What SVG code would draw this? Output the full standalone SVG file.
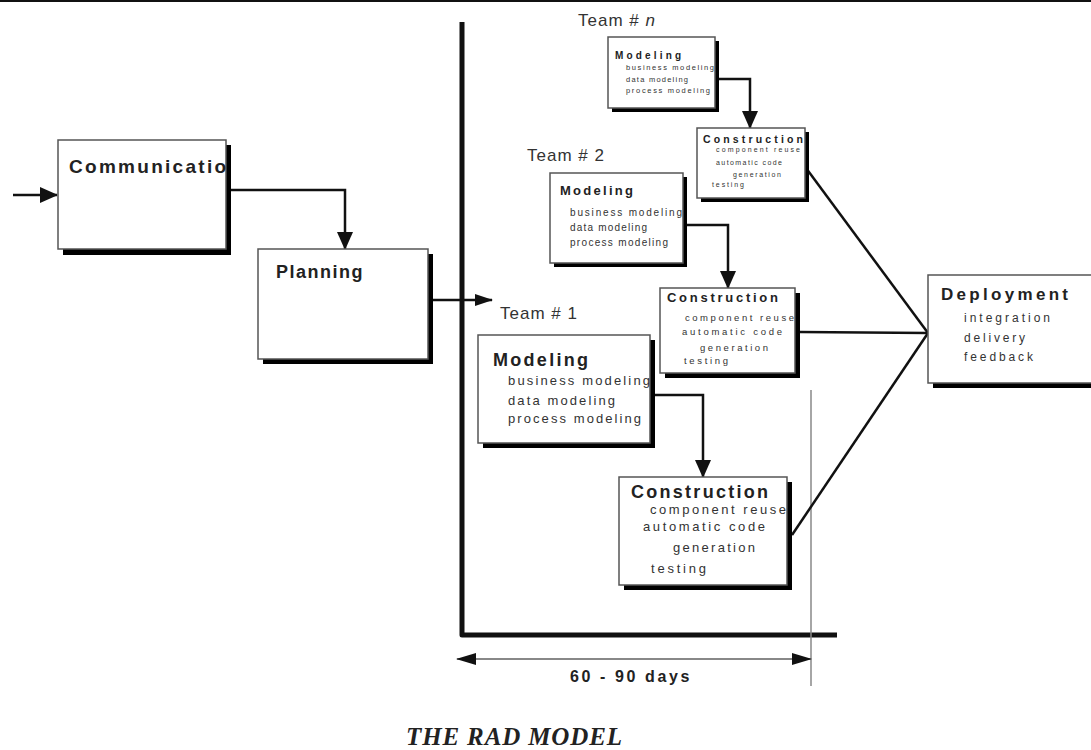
<svg xmlns="http://www.w3.org/2000/svg" width="1091" height="750" viewBox="0 0 1091 750">
  <style>
    .shadow { fill: #000; }
    .box { fill: #fff; stroke: #555; stroke-width: 1.5; }
    .title { font-family: "Liberation Sans", Arial, sans-serif; font-weight: bold; fill: #222; }
    .item { font-family: "Liberation Sans", Arial, sans-serif; fill: #333; }
    .team { font-family: "Liberation Sans", Arial, sans-serif; fill: #333; font-size: 17px; }
    .conn { fill: none; stroke: #111; stroke-width: 2.5; }
    .link { fill: none; stroke: #111; stroke-width: 2.5; }
  </style>
  <defs>
    <marker id="arrow" markerUnits="userSpaceOnUse" markerWidth="18" markerHeight="16" refX="17" refY="8" orient="auto">
      <path d="M0 0 L18 8 L0 16 Z" fill="#111"/>
    </marker>
    <marker id="arrowSmall" markerUnits="userSpaceOnUse" markerWidth="18" markerHeight="12" refX="17" refY="6" orient="auto">
      <path d="M0 0 L18 6 L0 12 Z" fill="#111"/>
    </marker>
    <marker id="dimArrow" markerUnits="userSpaceOnUse" markerWidth="20" markerHeight="12" refX="19" refY="6" orient="auto-start-reverse">
      <path d="M0 0 L20 6 L0 12 Z" fill="#111"/>
    </marker>
    <clipPath id="commClip"><rect x="58" y="140" width="168" height="109"/></clipPath>
  </defs>

  <rect width="1091" height="750" fill="#fff"/>
  <rect x="0" y="0" width="1091" height="2" fill="#111"/>

  <!-- time axis -->
  <g id="axis">
    <polyline points="462,22 462,635 837,635" fill="none" stroke="#111" stroke-width="5" stroke-linejoin="round"/>
    <line x1="811" y1="390" x2="811" y2="686" stroke="#888" stroke-width="1.5"/>
    <line x1="457" y1="659" x2="811" y2="659" stroke="#888" stroke-width="2" marker-start="url(#dimArrow)" marker-end="url(#dimArrow)"/>
    <text x="631" y="682" class="title" font-size="16" text-anchor="middle" letter-spacing="2.6">60 - 90 days</text>
  </g>

  <!-- connectors -->
  <g id="connectors">
    <line x1="13" y1="195" x2="57" y2="195" class="conn" stroke-width="2" marker-end="url(#arrow)"/>
    <polyline points="231,190 345,190 345,249" class="conn" marker-end="url(#arrow)"/>
    <line x1="433" y1="300" x2="492" y2="300" class="conn" marker-end="url(#arrowSmall)"/>
    <polyline points="715,79 750,79 750,128" class="conn" marker-end="url(#arrow)"/>
    <polyline points="683,225 728,225 728,288" class="conn" marker-end="url(#arrow)"/>
    <polyline points="650,395 703,395 703,477" class="conn" marker-end="url(#arrow)"/>
    <line x1="806" y1="168" x2="928" y2="333" class="link"/>
    <line x1="800" y1="332" x2="928" y2="333" class="link" stroke-width="1.8"/>
    <line x1="792" y1="535" x2="928" y2="333" class="link"/>
  </g>

  <!-- Communication -->
  <g id="communication">
    <rect x="63" y="145" width="168" height="110" class="shadow"/>
    <rect x="58" y="140" width="168" height="109" class="box"/>
    <text x="69" y="173" class="title" font-size="19" textLength="171" clip-path="url(#commClip)">Communication</text>
  </g>

  <!-- Planning -->
  <g id="planning">
    <rect x="263" y="254" width="170" height="110" class="shadow"/>
    <rect x="258" y="249" width="170" height="110" class="box"/>
    <text x="276" y="278" class="title" font-size="18" letter-spacing="1.5">Planning</text>
  </g>

  <!-- Teams -->
  <text id="team-n" x="578" y="26" class="team" letter-spacing="1">Team # <tspan font-style="italic">n</tspan></text>
  <text id="team-2" x="527" y="161" class="team" letter-spacing="1">Team # 2</text>
  <text id="team-1" x="500" y="319" class="team" letter-spacing="1">Team # 1</text>

  <!-- Team n: Modeling -->
  <g id="team-n-modeling">
    <rect x="612" y="41" width="107" height="71" class="shadow"/>
    <rect x="608" y="37" width="107" height="71" class="box"/>
    <text x="615" y="59" class="title" font-size="10" textLength="66">Modeling</text>
    <text x="626" y="70" class="item" font-size="7.5" textLength="88">business modeling</text>
    <text x="626" y="82" class="item" font-size="7.5" textLength="62">data modeling</text>
    <text x="626" y="93" class="item" font-size="7.5" textLength="84">process modeling</text>
  </g>

  <!-- Team n: Construction -->
  <g id="team-n-construction">
    <rect x="701" y="132" width="108" height="70" class="shadow"/>
    <rect x="697" y="128" width="108" height="70" class="box"/>
    <text x="703" y="143" class="title" font-size="10.5" textLength="100">Construction</text>
    <text x="716" y="152" class="item" font-size="7" textLength="84">component reuse</text>
    <text x="716" y="165" class="item" font-size="7" textLength="66">automatic code</text>
    <text x="733" y="177" class="item" font-size="7" textLength="48">generation</text>
    <text x="712" y="187" class="item" font-size="7" textLength="32">testing</text>
  </g>

  <!-- Team 2: Modeling -->
  <g id="team-2-modeling">
    <rect x="554" y="177" width="133" height="90" class="shadow"/>
    <rect x="550" y="173" width="133" height="90" class="box"/>
    <text x="560" y="195" class="title" font-size="13" textLength="73">Modeling</text>
    <text x="570" y="216" class="item" font-size="10" textLength="112">business modeling</text>
    <text x="570" y="231" class="item" font-size="10" textLength="77">data modeling</text>
    <text x="570" y="246" class="item" font-size="10" textLength="98">process modeling</text>
  </g>

  <!-- Team 2: Construction -->
  <g id="team-2-construction">
    <rect x="665" y="293" width="135" height="85" class="shadow"/>
    <rect x="660" y="288" width="135" height="85" class="box"/>
    <text x="667" y="302" class="title" font-size="13" textLength="111">Construction</text>
    <text x="685" y="321" class="item" font-size="9.5" textLength="109">component reuse</text>
    <text x="682" y="335" class="item" font-size="9.5" textLength="100">automatic code</text>
    <text x="700" y="351" class="item" font-size="9.5" textLength="68">generation</text>
    <text x="684" y="364" class="item" font-size="9.5" textLength="44">testing</text>
  </g>

  <!-- Team 1: Modeling -->
  <g id="team-1-modeling">
    <rect x="483" y="340" width="172" height="108" class="shadow"/>
    <rect x="478" y="335" width="172" height="108" class="box"/>
    <text x="493" y="366" class="title" font-size="18" textLength="95">Modeling</text>
    <text x="508" y="385" class="item" font-size="13" textLength="142">business modeling</text>
    <text x="508" y="405" class="item" font-size="13" textLength="107">data modeling</text>
    <text x="508" y="423" class="item" font-size="13" textLength="133">process modeling</text>
  </g>

  <!-- Team 1: Construction -->
  <g id="team-1-construction">
    <rect x="624" y="482" width="168" height="108" class="shadow"/>
    <rect x="619" y="477" width="168" height="108" class="box"/>
    <text x="631" y="498" class="title" font-size="18" textLength="137">Construction</text>
    <text x="650" y="514" class="item" font-size="13" textLength="136">component reuse</text>
    <text x="643" y="531" class="item" font-size="13" textLength="122">automatic code</text>
    <text x="673" y="552" class="item" font-size="13" textLength="82">generation</text>
    <text x="651" y="573" class="item" font-size="13" textLength="55">testing</text>
  </g>

  <!-- Deployment -->
  <g id="deployment">
    <rect x="933" y="280" width="170" height="108" class="shadow"/>
    <rect x="928" y="275" width="170" height="108" class="box"/>
    <text x="941" y="300" class="title" font-size="17" textLength="127">Deployment</text>
    <text x="964" y="322" class="item" font-size="12" textLength="86">integration</text>
    <text x="964" y="342" class="item" font-size="12" textLength="61">delivery</text>
    <text x="964" y="361" class="item" font-size="12" textLength="69">feedback</text>
  </g>

  <!-- caption -->
  <text id="caption" x="406" y="745" font-family="'Liberation Serif', 'Times New Roman', serif" font-weight="bold" font-style="italic" font-size="25" fill="#222" textLength="216">THE RAD MODEL</text>
</svg>
